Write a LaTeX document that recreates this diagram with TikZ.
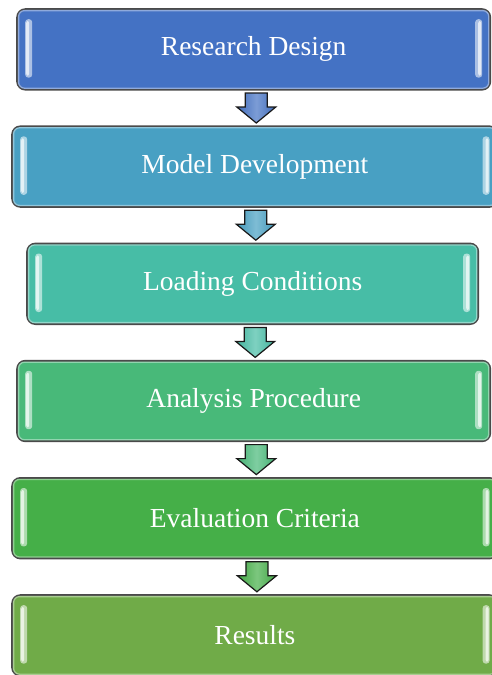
\documentclass[tikz,border=0pt]{standalone}
\usepackage{fontspec}
\setmainfont{Liberation Serif}
\usetikzlibrary{calc}
\definecolor{boxedge}{HTML}{4A4A4A}
\definecolor{cA}{HTML}{4472C4}
\definecolor{cB}{HTML}{48A0C3}
\definecolor{cC}{HTML}{47BDA6}
\definecolor{cD}{HTML}{48B979}
\definecolor{cE}{HTML}{45AF48}
\definecolor{cF}{HTML}{70AB48}
\tikzset{
  stagebox/.style={draw=boxedge, line width=2.4pt, rounded corners=8pt,
    minimum height=80pt, anchor=north west, inner sep=0pt,
    text=white, font=\fontsize{27.5}{32}\selectfont},
  downarrow/.style={draw=black!90, line width=1.2pt, line join=miter}
}
% stage box with inner bevel line and glossy side strips
% #1 name, #2 top-left corner, #3 width, #4 colour, #5 label
\newcommand\stagenode[5]{%
  \node[stagebox, fill=#4, minimum width=#3] (#1) at (#2) {#5};
  \draw[#4!60!white, line width=1.3pt, rounded corners=6pt]
    ($(#1.north west)+(2.4,2.4)$) rectangle ($(#1.south east)+(-2.4,-2.4)$);
  \fill[#4!45!white, rounded corners=3pt]
    ($(#1.north west)+(9,11)$) rectangle ($(#1.south west)+(16,-13)$);
  \fill[#4!15!white, rounded corners=2pt]
    ($(#1.north west)+(10,13)$) rectangle ($(#1.south west)+(13,-15)$);
  \fill[#4!45!white, rounded corners=3pt]
    ($(#1.north east)+(-16,11)$) rectangle ($(#1.south east)+(-9,-13)$);
  \fill[#4!15!white, rounded corners=2pt]
    ($(#1.north east)+(-13,13)$) rectangle ($(#1.south east)+(-10,-15)$);
}
% block arrow pointing down from one stage to the next
\newcommand\stagearrow[4]{%
  \coordinate (#1) at ($(#2.south)!0.5!(#3.north)+(2,0)$);
  \draw[downarrow, left color=#4!95!black, right color=#4!95!black, middle color=#4!70!white]
    ($(#1)+(-11,-15)$) -- ++(22,0) -- ++(0,14) -- ++(8.5,0) -- ($(#1)+(0,15)$)
    -- ($(#1)+(-19.5,-1)$) -- ++(8.5,0) -- cycle;
}
\begin{document}
\begin{tikzpicture}[x=1pt, y=-1pt]
  \useasboundingbox (0,0) rectangle (492,675);
  \clip (0,0) rectangle (492,675);
  \stagenode{s1}{16.2,8.2}{472.6pt}{cA}{Research Design}
  \stagenode{s2}{11.2,125.4}{485pt}{cB}{Model Development}
  \stagenode{s3}{26.2,242.6}{450.6pt}{cC}{Loading Conditions}
  \stagenode{s4}{16.2,359.8}{472.6pt}{cD}{Analysis Procedure}
  \stagenode{s5}{11.2,477.0}{485pt}{cE}{Evaluation Criteria}
  \stagenode{s6}{11.2,594.2}{485pt}{cF}{Results}
  \stagearrow{a1}{s1}{s2}{cA}
  \stagearrow{a2}{s2}{s3}{cB}
  \stagearrow{a3}{s3}{s4}{cC}
  \stagearrow{a4}{s4}{s5}{cD}
  \stagearrow{a5}{s5}{s6}{cE}
\end{tikzpicture}
\end{document}
